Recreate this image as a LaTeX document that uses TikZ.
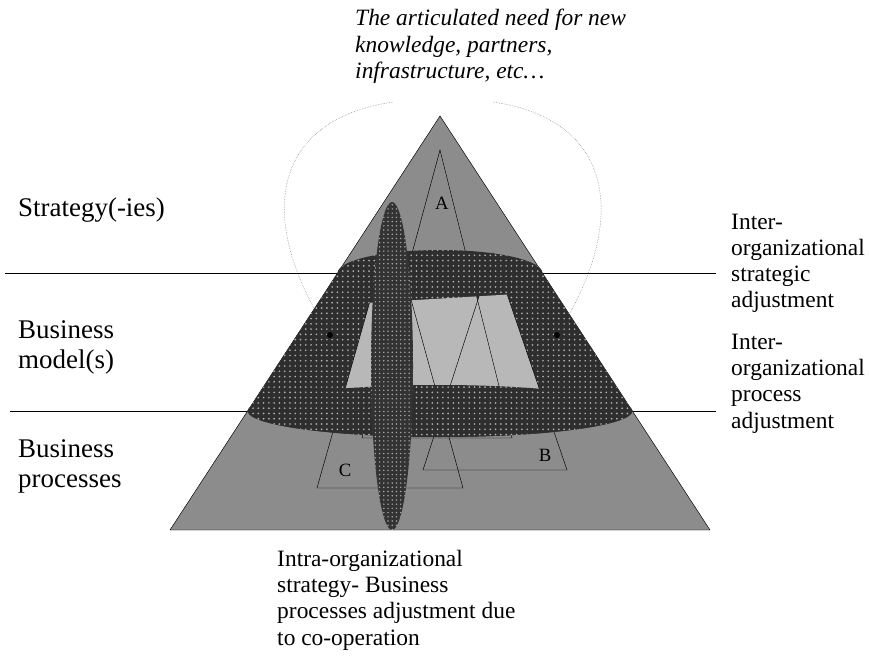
\documentclass[tikz,border=0pt]{standalone}
\usepackage{fontspec}
\setmainfont{Liberation Serif}
\usetikzlibrary{patterns.meta}

\tikzset{
  pyr/.style={draw=black, fill=black!45},
  org/.style={draw=black, thin},
  window/.style={fill=black!28},
  coop/.style={fill=black!82, postaction={pattern={Dots[distance=4.5pt, radius=0.8pt]}, pattern color=white!70!black}},
  intra/.style={fill=black!80, postaction={pattern={Dots[distance=3.6pt, radius=0.7pt]}, pattern color=white!65!black}},
  level line/.style={draw=black, thick},
  link/.style={draw=black!60, densely dotted, thin},
  lbl/.style={anchor=base west, inner sep=0pt, align=left, font=\fontsize{20}{22.4}\selectfont},
  side/.style={anchor=base west, inner sep=0pt, align=left, font=\fontsize{23}{25}\selectfont},
  need/.style={anchor=base west, inner sep=0pt, align=left, font=\fontsize{20}{23}\selectfont\itshape},
  tri/.style={inner sep=0pt, font=\fontsize{16}{18}\selectfont}
}

\begin{document}
\begin{tikzpicture}[x=0.03cm, y=-0.03cm]
\useasboundingbox (0,0) rectangle (869,656);

% levels
\draw[level line] (5,273) -- (716,273);
\draw[level line] (10,411) -- (716,411);

% the need, tied to the two partners
\node[need] (need) at (355,79) {The articulated need for new\\knowledge, partners,\\infrastructure, etc\ldots};
\coordinate (needL) at (393,102);
\coordinate (needR) at (493,102);
\coordinate (dotL) at (330,335);
\coordinate (dotR) at (557,335);
\draw[link] (needL) .. controls (270,120) and (255,220) .. (dotL);
\draw[link] (needR) .. controls (615,120) and (630,220) .. (dotR);

% pyramid
\draw[pyr] (440,116) -- (710,530) -- (170,530) -- cycle;

% organisations A, B, C
\coordinate (A1) at (440,150);
\coordinate (A2) at (512,438);
\coordinate (A3) at (362,438);
\coordinate (B1) at (493,253);
\coordinate (B2) at (567,470);
\coordinate (B3) at (423,470);
\coordinate (C1) at (391,227);
\coordinate (C2) at (463,488);
\coordinate (C3) at (317,488);
\draw[org] (A1) -- (A2) -- (A3) -- cycle;
\draw[org] (B1) -- (B2) -- (B3) -- cycle;
\draw[org] (C1) -- (C2) -- (C3) -- cycle;

% inter-organizational ring
\path[coop] (247.7,411) -- (337.6,273) arc[start angle=180, end angle=360, x radius=102.4, y radius=23]
  -- (632.3,411) arc[start angle=0, end angle=180, x radius=192.3, y radius=26] -- cycle;
\begin{scope}
  \clip (300,307) -- (600,289) -- (600,400) -- (300,400) -- cycle;
  \fill[window] (A1) -- (A2) -- (A3) -- cycle (B1) -- (B2) -- (B3) -- cycle (C1) -- (C2) -- (C3) -- cycle;
  \draw[org] (A1) -- (A2) -- (A3) -- cycle;
  \draw[org] (B1) -- (B2) -- (B3) -- cycle;
  \draw[org] (C1) -- (C2) -- (C3) -- cycle;
\end{scope}
\path[coop] (440,411) ellipse[x radius=192.3, y radius=26];

% intra-organizational
\path[intra] (392,366) ellipse[x radius=21, y radius=164];

\fill (dotL) circle[radius=3];
\fill (dotR) circle[radius=3];

\node[tri] (labA) at (442,203) {A};
\node[tri] (labB) at (545,455) {B};
\node[tri] (labC) at (345,470) {C};

% levels and adjustments
\node[side] (strat) at (18,217) {Strategy(-ies)};
\node[side] (model) at (18,368) {Business\\model(s)};
\node[side] (proc) at (18,487) {Business\\processes};
\node[lbl] (stratAdj) at (731,308) {Inter-\\organizational\\strategic\\adjustment};
\node[lbl] (procAdj) at (731,428) {Inter-\\organizational\\process\\adjustment};
\node[lbl] (intraAdj) at (277,645) {Intra-organizational\\strategy- Business\\processes adjustment due\\to co-operation};
\end{tikzpicture}
\end{document}
